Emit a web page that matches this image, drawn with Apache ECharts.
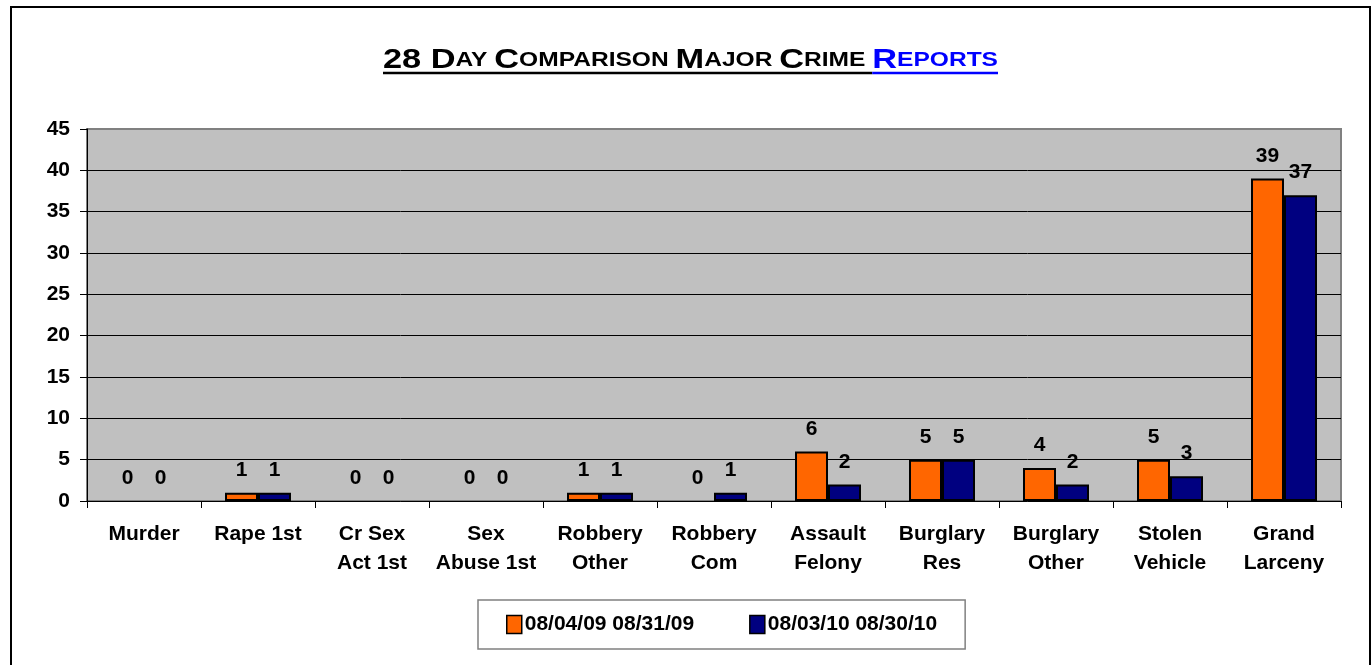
<!DOCTYPE html>
<html>
<head>
<meta charset="utf-8">
<script src="https://cdn.jsdelivr.net/npm/echarts@6/dist/echarts.min.js"></script>
<style>
  html, body { margin: 0; padding: 0; background: #fff; }
  #main { width: 1372px; height: 665px; }
</style>
</head>
<body>
<div id="main"></div>
<script>
var categories = ['Murder', 'Rape 1st', 'Cr Sex\nAct 1st', 'Sex\nAbuse 1st', 'Robbery\nOther',
  'Robbery\nCom', 'Assault\nFelony', 'Burglary\nRes', 'Burglary\nOther', 'Stolen\nVehicle', 'Grand\nLarceny'];
var seriesNames = ['08/04/09 08/31/09', '08/03/10 08/30/10'];
var values2009 = [0, 1, 0, 0, 1, 0, 6, 5, 4, 5, 39];
var values2010 = [0, 1, 0, 0, 1, 1, 2, 5, 2, 3, 37];
var yTicks = [0, 5, 10, 15, 20, 25, 30, 35, 40, 45];

var FONT = 'Liberation Sans, Arial, sans-serif';

// title pieces: [text, big?, colour]
var titleParts = [
  ['28 D', 1, '#000'], ['AY ', 0, '#000'], ['C', 1, '#000'], ['OMPARISON ', 0, '#000'],
  ['M', 1, '#000'], ['AJOR ', 0, '#000'], ['C', 1, '#000'], ['RIME ', 0, '#000'],
  ['R', 1, '#0000ff'], ['EPORTS', 0, '#0000ff']
];
var BIG = 28, SMALL = 20;
var titleLeft = 383, titleRight = 998, titleTop = 46, lineY = 73;

var ctx = document.createElement('canvas').getContext('2d');
function w(t, size) { ctx.font = 'bold ' + size + 'px ' + FONT; return ctx.measureText(t).width; }

var total = 0, blackW = 0, richText = '';
titleParts.forEach(function (p) {
  var tw = w(p[0], p[1] ? BIG : SMALL);
  total += tw;
  if (p[2] === '#000') blackW += tw;
  richText += '{' + (p[1] ? 'b' : 's') + (p[2] === '#000' ? 'k' : 'u') + '|' + p[0] + '}';
});
// the original title is set a little wider than Arial, so stretch it
var sx = (titleRight - titleLeft) / total;
var blueStart = titleLeft + blackW * sx;

function makeData(arr) {
  return arr.map(function (v) {
    return v === 0 ? { value: v, itemStyle: { borderWidth: 0 } } : v;
  });
}

var chart = echarts.init(document.getElementById('main'));
var option = {
  animation: false,
  backgroundColor: '#fff',
  textStyle: { fontFamily: FONT },
  graphic: [
    { type: 'rect', shape: { x: 11, y: 7, width: 1359, height: 700 },
      style: { fill: 'none', stroke: '#000', lineWidth: 2 }, silent: true },
    { type: 'text', x: titleLeft, y: titleTop, scaleX: sx,
      style: {
        text: richText, x: 0, y: 0,
        rich: {
          bk: { fontSize: BIG, fontWeight: 'bold', fill: '#000', fontFamily: FONT },
          sk: { fontSize: SMALL, fontWeight: 'bold', fill: '#000', fontFamily: FONT },
          bu: { fontSize: BIG, fontWeight: 'bold', fill: '#0000ff', fontFamily: FONT },
          su: { fontSize: SMALL, fontWeight: 'bold', fill: '#0000ff', fontFamily: FONT }
        }
      } },
    { type: 'line', shape: { x1: titleLeft, y1: lineY, x2: blueStart, y2: lineY },
      style: { stroke: '#000', lineWidth: 2.5 } },
    { type: 'line', shape: { x1: blueStart, y1: lineY, x2: titleRight, y2: lineY },
      style: { stroke: '#0000ff', lineWidth: 2.5 } }
  ],
  legend: {
    left: 478,
    top: 600,
    padding: [14, 28],
    itemGap: 55,
    itemWidth: 15,
    itemHeight: 18,
    icon: 'rect',
    borderColor: '#808080',
    borderWidth: 1.5,
    backgroundColor: '#fff',
    itemStyle: { borderColor: '#000', borderWidth: 1.5 },
    textStyle: { fontSize: 21, fontWeight: 'bold', color: '#000', fontFamily: FONT, padding: [0, 0, 0, -2] },
    data: seriesNames
  },
  grid: {
    left: 87, top: 129, right: 31, bottom: 164,
    show: true,
    backgroundColor: '#c0c0c0',
    borderColor: '#808080',
    borderWidth: 2
  },
  xAxis: {
    type: 'category',
    data: categories,
    axisLine: { lineStyle: { color: '#000', width: 1 } },
    axisTick: { show: true, length: 7, lineStyle: { color: '#000' } },
    axisLabel: {
      color: '#000', fontSize: 21, fontWeight: 'bold', fontFamily: FONT,
      lineHeight: 29, margin: 19, interval: 0
    }
  },
  yAxis: {
    type: 'value',
    min: yTicks[0],
    max: yTicks[yTicks.length - 1],
    interval: yTicks[1] - yTicks[0],
    axisLine: { show: true, lineStyle: { color: '#000', width: 1 } },
    axisTick: { show: true, length: 7, lineStyle: { color: '#000' } },
    axisLabel: { color: '#000', fontSize: 21, fontWeight: 'bold', fontFamily: FONT, margin: 17 },
    splitLine: { show: true, showMaxLine: false, showMinLine: false, lineStyle: { color: '#000', width: 1 } }
  },
  series: [
    {
      name: seriesNames[0],
      type: 'bar',
      data: makeData(values2009),
      barWidth: 33,
      barGap: '0%',
      itemStyle: { color: '#ff6600', borderColor: '#000', borderWidth: 2 },
      label: { show: true, position: 'top', distance: 12, color: '#000', fontSize: 21, fontWeight: 'bold', fontFamily: FONT }
    },
    {
      name: seriesNames[1],
      type: 'bar',
      data: makeData(values2010),
      barWidth: 33,
      itemStyle: { color: '#000080', borderColor: '#000', borderWidth: 2 },
      label: { show: true, position: 'top', distance: 12, color: '#000', fontSize: 21, fontWeight: 'bold', fontFamily: FONT }
    }
  ]
};
chart.setOption(option);
</script>
</body>
</html>
